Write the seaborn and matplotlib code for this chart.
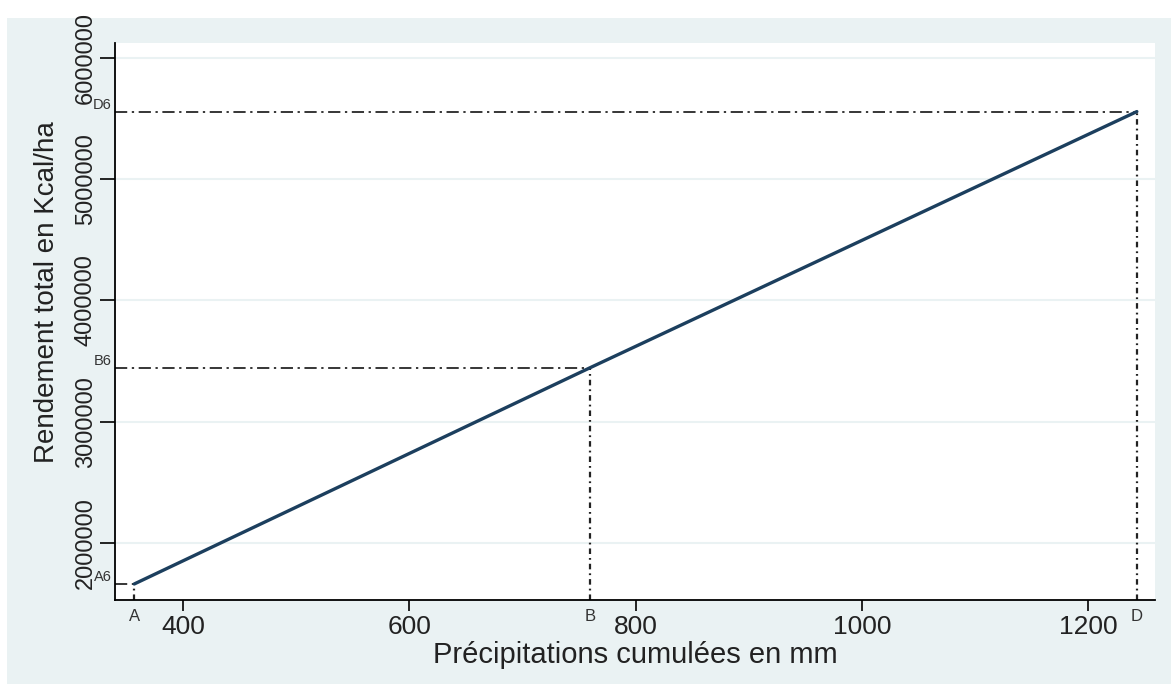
import numpy as np
import pandas as pd
import matplotlib
matplotlib.use('Agg')
import matplotlib.pyplot as plt
import matplotlib.transforms as mtransforms
from matplotlib.patches import Rectangle
import seaborn as sns

# Reference points (rainfall in mm, yield in Kcal/ha)
ref_labels = ['A', 'B', 'D']
ref_x = [357, 760, 1243]
ref_y = [1662000, 3445000, 5555000]

x_ticks = [400, 600, 800, 1000, 1200]
y_ticks = [2000000, 3000000, 4000000, 5000000, 6000000]

line_df = pd.DataFrame({'precip': ref_x, 'rendement': ref_y})

sns.set_style('white')
plt.rcParams['font.family'] = ['Liberation Sans', 'DejaVu Sans']

bg_col = '#eaf2f3'
line_col = '#1c3f5e'

fig = plt.figure(figsize=(11.71, 6.84), dpi=100, facecolor='white')
# Stata style outer panel
fig.patches.append(Rectangle((0.006, 0.0), 0.994, 0.974, transform=fig.transFigure,
                             facecolor=bg_col, edgecolor='none', zorder=-1))
ax = fig.add_axes([0.0982, 0.1228, 0.8881, 0.8143])
ax.set_facecolor('white')

sns.lineplot(data=line_df, x='precip', y='rendement', ax=ax, color=line_col,
             linewidth=2.4, zorder=3)

ax.set_xlim(340, 1259)
ax.set_ylim(1530000, 6120000)

# Dash-dot reference lines to the axes
for lab, xv, yv in zip(ref_labels, ref_x, ref_y):
    ax.plot([340, xv], [yv, yv], color='black', lw=1.1,
            linestyle=(0, (8, 3, 1.5, 3)), zorder=2)
    ax.plot([xv, xv], [1530000, yv], color='#222222', lw=1.6,
            linestyle=(0, (2.5, 1.8, 0.8, 1.8)), zorder=2)

ytr = mtransforms.blended_transform_factory(ax.transAxes, ax.transData)
xtr = mtransforms.blended_transform_factory(ax.transData, ax.transAxes)
for lab, xv, yv in zip(ref_labels, ref_x, ref_y):
    ax.text(-0.003, yv, lab + '6', transform=ytr, ha='right', va='bottom',
            fontsize=10.5, color='#333333')
    ax.text(xv, -0.016, lab, transform=xtr, ha='center', va='top',
            fontsize=12, color='#333333')

ax.set_xticks(x_ticks)
ax.set_yticks(y_ticks)
ax.set_xticklabels([str(v) for v in x_ticks], fontsize=19, color='#222222')
ax.set_yticklabels([str(v) for v in y_ticks], fontsize=17, color='#222222',
                   rotation=90, va='center')
ax.tick_params(axis='x', direction='out', length=8, width=1.2, color='black', pad=3, bottom=True)
ax.tick_params(axis='y', direction='out', length=11, width=1.2, color='black', pad=2, left=True)

ax.grid(axis='y', color=bg_col, linewidth=1.5, zorder=0)
ax.grid(axis='x', visible=False)

sns.despine(ax=ax, top=True, right=True)
for side in ['left', 'bottom']:
    ax.spines[side].set_color('black')
    ax.spines[side].set_linewidth(1.3)

ax.set_xlabel('Précipitations cumulées en mm', fontsize=21, color='#222222', labelpad=1)
ax.set_ylabel('Rendement total en Kcal/ha', fontsize=20, color='#222222')
ax.yaxis.set_label_coords(-0.053, 0.553)

plt.savefig('out.png', dpi=100, facecolor='white')
